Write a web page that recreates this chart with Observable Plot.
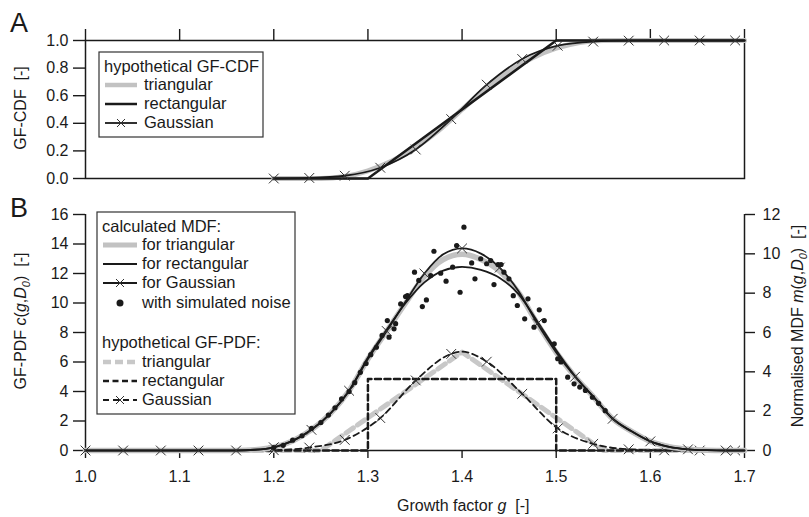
<!DOCTYPE html>
<html><head><meta charset="utf-8">
<script src="https://cdn.jsdelivr.net/npm/d3@7"></script>
<script src="https://cdn.jsdelivr.net/npm/@observablehq/plot@0.6"></script>
<style>
body{margin:0;background:#fff;}
#wrap{position:relative;width:809px;height:517px;overflow:hidden;font-family:"Liberation Sans",Arial,sans-serif;}
#wrap svg{position:absolute;left:0;}
</style></head><body><div id="wrap"></div>
<script>
// ---------- shared ticks ----------
const xTicks = [1.0, 1.1, 1.2, 1.3, 1.4, 1.5, 1.6, 1.7];
const cdfTicks = [0, 0.2, 0.4, 0.6, 0.8, 1.0];
const pdfTicks = [0, 2, 4, 6, 8, 10, 12, 14, 16];
const mdfTicks = [0, 2, 4, 6, 8, 10, 12];

// ---------- panel A: hypothetical GF-CDF ----------
const cdfTriG = [1.2, 1.25, 1.275, 1.3, 1.325, 1.35, 1.375, 1.4, 1.425, 1.45, 1.475, 1.5, 1.525, 1.55, 1.7];
const cdfTriV = [0, 0, 0.014, 0.056, 0.125, 0.222, 0.347, 0.5, 0.653, 0.778, 0.875, 0.944, 0.986, 1, 1];
const cdfRectG = [1.2, 1.3, 1.5, 1.7];
const cdfRectV = [0, 0, 1, 1];
const cdfGaussG = [1.2, 1.2377, 1.2754, 1.3131, 1.3508, 1.3885, 1.4262, 1.4639, 1.5016, 1.5393, 1.577, 1.6147, 1.6524, 1.6901, 1.7];
const cdfGaussV = [0, 0.004, 0.02, 0.078, 0.21, 0.43, 0.68, 0.866, 0.962, 0.992, 0.999, 1, 1, 1, 1];
const cdfGaussMarkG = [1.2, 1.2377, 1.2754, 1.3131, 1.3508, 1.3885, 1.4262, 1.4639, 1.5016, 1.5393, 1.577, 1.6147, 1.6524, 1.6901];
const cdfGaussMarkV = [0, 0.004, 0.02, 0.078, 0.21, 0.43, 0.68, 0.866, 0.962, 0.992, 0.999, 1, 1, 1];

// ---------- panel B: calculated MDF ----------
const mdfG      = [1.00, 1.16, 1.18, 1.20, 1.22, 1.24, 1.26, 1.28, 1.30, 1.32, 1.34, 1.36, 1.38, 1.40, 1.42, 1.44, 1.46, 1.48, 1.50, 1.52, 1.54, 1.56, 1.58, 1.60, 1.62, 1.64, 1.66, 1.68, 1.70];
const mdfGauss  = [0, 0, 0.05, 0.22, 0.65, 1.4, 2.5, 4.05, 6.2, 8.1, 10.1, 12.0, 13.3, 13.7, 13.35, 12.4, 10.8, 8.6, 6.65, 5.0, 3.6, 2.15, 1.3, 0.62, 0.25, 0.08, 0.02, 0, 0];
const mdfTri    = [0, 0, 0.05, 0.22, 0.65, 1.4, 2.5, 4.05, 6.2, 8.1, 10.0, 11.8, 12.95, 13.3, 12.95, 12.15, 10.7, 8.6, 6.65, 5.0, 3.6, 2.15, 1.3, 0.62, 0.25, 0.08, 0.02, 0, 0];
const mdfRect   = [0, 0, 0.05, 0.22, 0.65, 1.4, 2.5, 4.05, 6.3, 8.2, 10.0, 11.4, 12.2, 12.45, 12.25, 11.7, 10.6, 8.75, 6.8, 5.05, 3.6, 2.15, 1.3, 0.62, 0.25, 0.08, 0.02, 0, 0];
const mdfMarkG  = [1.00, 1.04, 1.08, 1.12, 1.16, 1.20, 1.24, 1.28, 1.32, 1.36, 1.40, 1.44, 1.48, 1.52, 1.56, 1.60, 1.64, 1.68];
const mdfMarkV  = [0, 0, 0, 0, 0, 0.22, 1.4, 4.05, 8.1, 12.0, 13.7, 12.4, 8.6, 5.0, 2.15, 0.62, 0.08, 0];

// simulated noise
const noiseG = [1.200, 1.210, 1.220, 1.230, 1.240, 1.250, 1.258, 1.265, 1.272, 1.280, 1.286, 1.292, 1.298, 1.303, 1.309, 1.315, 1.3206, 1.3224, 1.3277, 1.3294, 1.3348, 1.3419, 1.340, 1.3495, 1.354, 1.3578, 1.3621, 1.3667, 1.3701, 1.3773, 1.3830, 1.3900, 1.3942, 1.3979, 1.4020, 1.4102, 1.4137, 1.4198, 1.4261, 1.4304, 1.4339, 1.4382, 1.4414, 1.4445, 1.4498, 1.4544, 1.4587, 1.4665, 1.4700, 1.4764, 1.482, 1.4873, 1.4979, 1.5016, 1.505, 1.5122, 1.519, 1.525, 1.531, 1.5385, 1.545, 1.552];
const noiseV = [0.2, 0.35, 0.7, 1.0, 1.5, 1.9, 2.4, 2.9, 3.5, 4.0, 4.6, 5.3, 5.9, 6.5, 7.0, 7.8, 8.81, 7.68, 8.25, 8.6, 9.94, 10.5, 10.44, 12.09, 11.53, 9.76, 10.21, 11.86, 13.51, 12.02, 11.48, 12.43, 13.9, 10.73, 15.14, 12.72, 11.64, 13.0, 12.66, 12.88, 11.25, 12.61, 12.61, 12.09, 11.64, 10.5, 9.83, 8.93, 10.28, 8.36, 9.54, 8.81, 7.23, 6.22, 6.0, 4.97, 4.52, 4.3, 4.07, 3.61, 3.2, 2.7];

// ---------- panel B: hypothetical GF-PDF ----------
const pdfTriG = [1.0, 1.25, 1.40, 1.55, 1.7];
const pdfTriV = [0, 0, 6.67, 0, 0];
const pdfRectG = [1.0, 1.3, 1.3, 1.5, 1.5, 1.7];
const pdfRectV = [0, 0, 4.85, 4.85, 0, 0];
const pdfGaussG = [1.0, 1.16, 1.2, 1.2377, 1.2754, 1.3131, 1.3508, 1.3885, 1.40, 1.4262, 1.4639, 1.5016, 1.5393, 1.577, 1.6147, 1.6524, 1.6901, 1.7];
const pdfGaussV = [0, 0, 0.02, 0.2, 0.72, 2.2, 4.75, 6.55, 6.7, 6.02, 3.84, 1.5, 0.45, 0.08, 0.01, 0, 0, 0];
const pdfMarkG = [1.2, 1.2377, 1.2754, 1.3131, 1.3508, 1.3885, 1.4262, 1.4639, 1.5016, 1.5393, 1.577, 1.6147, 1.6524, 1.6901];
const pdfMarkV = [0.02, 0.2, 0.72, 2.2, 4.75, 6.55, 6.02, 3.84, 1.5, 0.45, 0.08, 0.01, 0, 0];

// ---------- text ----------
const legendA = ["hypothetical GF-CDF", "triangular", "rectangular", "Gaussian"];
const legendB = ["calculated MDF:", "for triangular", "for rectangular", "for Gaussian", "with simulated noise", "hypothetical GF-PDF:", "triangular", "rectangular", "Gaussian"];

const rows = (xs, ys) => xs.map((x, i) => ({x, y: ys[i]}));
const INK = "#1a1a1a", GREY = "#c2c2c2";
const FONT = "Liberation Sans, Arial, sans-serif";
const SP = "\u00a0\u00a0";
const wrap = document.getElementById("wrap");

const baseStyle = {fontFamily: FONT, fontSize: "16px", color: INK, background: "transparent", overflow: "visible"};

// Panel A
const plotA = Plot.plot({
  width: 809, height: 190,
  marginLeft: 85, marginRight: 65, marginTop: 40, marginBottom: 12,
  x: {domain: [1.0, 1.7]}, y: {domain: [0, 1]},
  style: baseStyle,
  marks: [
    Plot.frame({stroke: INK, strokeWidth: 1.5}),
    Plot.axisX(xTicks, {anchor: "top", tickSize: 12, tickFormat: () => "", label: null, strokeWidth: 1.4}),
    Plot.axisY(cdfTicks, {anchor: "left", tickSize: 12, tickPadding: 5, tickFormat: d => d.toFixed(1), label: null, strokeWidth: 1.4}),
    Plot.line(rows(cdfTriG, cdfTriV), {x: "x", y: "y", stroke: GREY, strokeWidth: 5, curve: "monotone-x"}),
    Plot.line(rows(cdfRectG, cdfRectV), {x: "x", y: "y", stroke: INK, strokeWidth: 2.5}),
    Plot.line(rows(cdfGaussG, cdfGaussV), {x: "x", y: "y", stroke: INK, strokeWidth: 1.8, curve: "monotone-x"}),
    Plot.dot(rows(cdfGaussMarkG, cdfGaussMarkV), {x: "x", y: "y", symbol: "times", r: 4.5, stroke: "#333", strokeWidth: 1})
  ]
});
plotA.style.top = "0px";
wrap.appendChild(plotA);

// Panel B
const plotB = Plot.plot({
  width: 809, height: 327,
  marginLeft: 85, marginRight: 65, marginTop: 24, marginBottom: 67,
  x: {domain: [1.0, 1.7]}, y: {domain: [0, 16]},
  style: baseStyle,
  marks: [
    Plot.axisX(xTicks, {anchor: "bottom", tickSize: 8, tickPadding: 12, tickFormat: d => d.toFixed(1), label: null, strokeWidth: 1.4}),
    Plot.axisY(pdfTicks, {anchor: "left", tickSize: 12, tickPadding: 5, label: null, strokeWidth: 1.4}),
    Plot.axisY(mdfTicks.map(r => r * 16 / 12), {anchor: "right", tickSize: 10, tickPadding: 8, tickFormat: d => Math.round(d * 12 / 16), label: null, strokeWidth: 1.4}),
    Plot.ruleX([1.0, 1.7], {stroke: INK, strokeWidth: 1.5}),
    Plot.ruleY([0], {stroke: INK, strokeWidth: 1.5}),
    // hypothetical PDFs
    Plot.line(rows(pdfTriG, pdfTriV), {x: "x", y: "y", stroke: "#c8c8c8", strokeWidth: 5, strokeDasharray: "9,5"}),
    Plot.line(rows(pdfRectG, pdfRectV), {x: "x", y: "y", stroke: INK, strokeWidth: 2.5, strokeDasharray: "6,3.5"}),
    Plot.line(rows(pdfGaussG, pdfGaussV), {x: "x", y: "y", stroke: INK, strokeWidth: 1.8, strokeDasharray: "6,4", curve: "monotone-x"}),
    Plot.dot(rows(pdfMarkG, pdfMarkV), {x: "x", y: "y", symbol: "times", r: 4.5, stroke: "#333", strokeWidth: 1}),
    // calculated MDFs
    Plot.line(rows(mdfG, mdfTri), {x: "x", y: "y", stroke: GREY, strokeWidth: 5.5, curve: "monotone-x"}),
    Plot.line(rows(mdfG, mdfRect), {x: "x", y: "y", stroke: INK, strokeWidth: 1.8, curve: "monotone-x"}),
    Plot.line(rows(mdfG, mdfGauss), {x: "x", y: "y", stroke: INK, strokeWidth: 1.8, curve: "monotone-x"}),
    Plot.dot(rows(mdfMarkG, mdfMarkV), {x: "x", y: "y", symbol: "times", r: 4.5, stroke: "#333", strokeWidth: 1}),
    // simulated noise
    Plot.dot(rows(noiseG, noiseV), {x: "x", y: "y", r: 2.6, fill: INK, stroke: "none"})
  ]
});
plotB.style.top = "190px";
wrap.appendChild(plotB);

// Overlay: panel letters, axis titles, legends
const ov = d3.select(wrap).append("svg")
  .attr("width", 809).attr("height", 517)
  .style("top", "0px").style("pointer-events", "none")
  .attr("font-family", FONT).attr("fill", INK);

ov.append("text").attr("x", 10).attr("y", 32).attr("font-size", 27).text("A");
ov.append("text").attr("x", 10).attr("y", 217).attr("font-size", 27).text("B");

// axis titles
function rich(sel, parts) {
  parts.forEach(p => {
    const t = sel.append("tspan").text(p.t);
    if (p.i) t.attr("font-style", "italic");
    if (p.sub) t.attr("font-size", 11).attr("dy", 4);
    if (p.up) t.attr("dy", -4);
  });
}
const tA = ov.append("text").attr("font-size", 16).attr("text-anchor", "middle")
  .attr("transform", "translate(26,108) rotate(-90)");
rich(tA, [{t: "GF-CDF" + SP + "[-]"}]);

const tB = ov.append("text").attr("font-size", 16).attr("text-anchor", "middle")
  .attr("transform", "translate(26,321) rotate(-90)");
rich(tB, [{t: "GF-PDF "}, {t: "c", i: 1}, {t: "("}, {t: "g", i: 1}, {t: ","}, {t: "D", i: 1}, {t: "0", i: 1, sub: 1}, {t: ")" + SP + "[-]", up: 1}]);

const tR = ov.append("text").attr("font-size", 16).attr("text-anchor", "middle")
  .attr("transform", "translate(803,326) rotate(-90)");
rich(tR, [{t: "Normalised MDF "}, {t: "m", i: 1}, {t: "("}, {t: "g", i: 1}, {t: ","}, {t: "D", i: 1}, {t: "0", i: 1, sub: 1}, {t: ")" + SP + "[-]", up: 1}]);

const tX = ov.append("text").attr("font-size", 16).attr("x", 397).attr("y", 511);
rich(tX, [{t: "Growth factor "}, {t: "g", i: 1}, {t: SP + "[-]"}]);

// legend helpers
function cross(g, cx, cy, s) {
  g.append("path").attr("d", `M${cx - s},${cy - s}L${cx + s},${cy + s}M${cx - s},${cy + s}L${cx + s},${cy - s}`)
    .attr("stroke", "#333").attr("stroke-width", 1).attr("fill", "none");
}
function sample(g, x1, x2, y, stroke, w, dash) {
  const l = g.append("line").attr("x1", x1).attr("x2", x2).attr("y1", y).attr("y2", y)
    .attr("stroke", stroke).attr("stroke-width", w);
  if (dash) l.attr("stroke-dasharray", dash);
}
function label(g, x, y, s) {
  g.append("text").attr("x", x).attr("y", y).attr("font-size", 16.5).text(s);
}

// legend A
const LA = ov.append("g");
LA.append("rect").attr("x", 99).attr("y", 52).attr("width", 164).attr("height", 85)
  .attr("fill", "#fff").attr("stroke", "#333").attr("stroke-width", 1.2);
label(LA, 104, 72, legendA[0]);
sample(LA, 105, 137, 85, GREY, 4.5);
label(LA, 144, 90, legendA[1]);
sample(LA, 105, 137, 104, INK, 2.5);
label(LA, 144, 109, legendA[2]);
sample(LA, 105, 137, 123, INK, 1.8);
cross(LA, 121, 123, 4);
label(LA, 144, 128, legendA[3]);

// legend B
const LB = ov.append("g");
LB.append("rect").attr("x", 97).attr("y", 212).attr("width", 198).attr("height", 202)
  .attr("fill", "#fff").attr("stroke", "#333").attr("stroke-width", 1.2);
label(LB, 102, 232, legendB[0]);
sample(LB, 103, 137, 245, GREY, 5);
label(LB, 142, 250, legendB[1]);
sample(LB, 103, 137, 264, INK, 1.8);
label(LB, 142, 269, legendB[2]);
sample(LB, 103, 137, 283, INK, 1.8);
cross(LB, 120, 283, 4);
label(LB, 142, 288, legendB[3]);
LB.append("circle").attr("cx", 120).attr("cy", 303).attr("r", 3.5).attr("fill", INK);
label(LB, 142, 308, legendB[4]);
label(LB, 102, 348, legendB[5]);
sample(LB, 103, 137, 362, "#c8c8c8", 4.5, "8,4");
label(LB, 142, 367, legendB[6]);
sample(LB, 103, 137, 381, INK, 2.5, "6,3.5");
label(LB, 142, 386, legendB[7]);
sample(LB, 103, 137, 400, INK, 1.8, "6,4");
cross(LB, 120, 400, 4);
label(LB, 142, 405, legendB[8]);
</script></body></html>
